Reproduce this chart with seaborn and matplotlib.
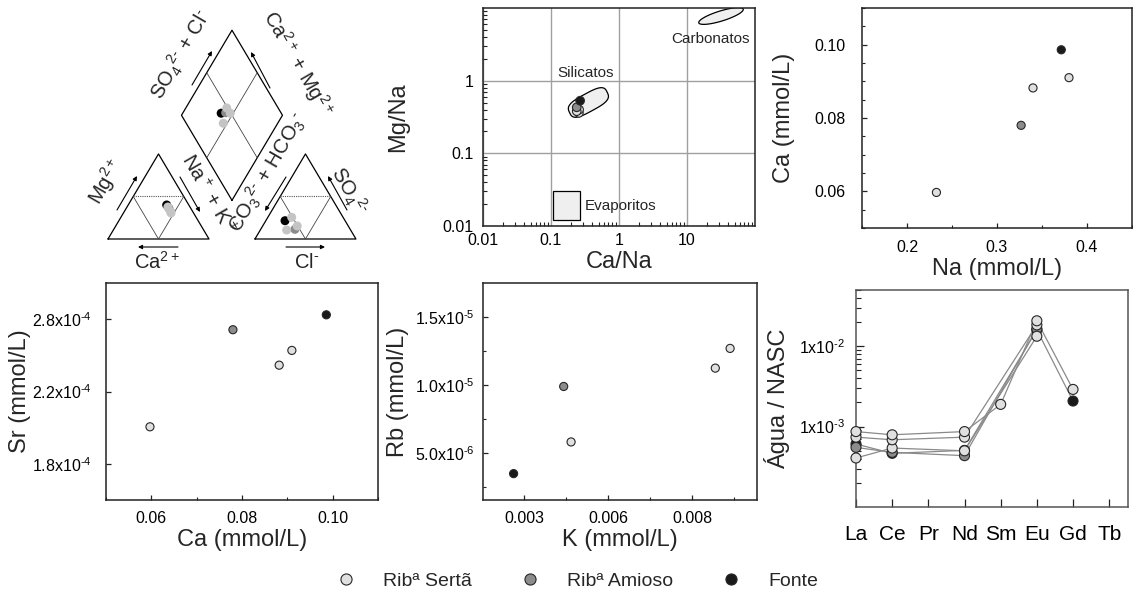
import numpy as np
import pandas as pd
import matplotlib
matplotlib.use("Agg")
import matplotlib.pyplot as plt
import seaborn as sns
from matplotlib.lines import Line2D
from matplotlib.patches import Rectangle
from matplotlib.ticker import AutoMinorLocator, LogLocator, NullFormatter, NullLocator

# ---- data ----
# sample order: three Ribª Sertã, one Ribª Amioso, one Fonte
groups = ["Ribª Sertã", "Ribª Sertã", "Ribª Sertã", "Ribª Amioso", "Fonte"]
legend_order = ["Ribª Sertã", "Ribª Amioso", "Fonte"]
palette = {"Ribª Sertã": "#e0e0e0", "Ribª Amioso": "#8c8c8c", "Fonte": "#1a1a1a"}
piper_palette = {"Ribª Sertã": "#c4c4c4", "Ribª Amioso": "#8a8a8a", "Fonte": "#000000"}

# Piper, fractions of total meq
cat_ca = [0.219, 0.218, 0.223, 0.216, 0.219]
cat_mg = [0.376, 0.321, 0.306, 0.361, 0.400]
cat_nak = [0.405, 0.461, 0.471, 0.423, 0.381]
an_hco3 = [0.509, 0.633, 0.505, 0.547, 0.595]
an_so4 = [0.255, 0.106, 0.153, 0.114, 0.215]
an_cl = [0.236, 0.261, 0.342, 0.339, 0.190]

# Gaillardet-type ratios
ca_na = [0.257, 0.259, 0.239, 0.239, 0.268]
mg_na = [0.36, 0.40, 0.38, 0.43, 0.53]

# concentrations (mmol/L)
na_mmol = [0.2327, 0.340, 0.380, 0.3268, 0.3714]
ca_mmol = [0.0597, 0.0882, 0.0910, 0.0780, 0.0986]
sr_mmol = [2.006e-4, 2.432e-4, 2.534e-4, 2.677e-4, 2.780e-4]
k_mmol = [0.00440, 0.00869, 0.00913, 0.00418, 0.00269]
rb_mmol = [5.79e-6, 1.122e-5, 1.267e-5, 9.87e-6, 3.46e-6]

# REE normalised to NASC
nan = np.nan
ree_elements = ["La", "Ce", "Pr", "Nd", "Sm", "Eu", "Gd", "Tb"]
ree_sertã_1 = [8.67e-4, 7.91e-4, nan, 8.67e-4, 1.89e-3, 2.07e-2, 2.90e-3, nan]
ree_sertã_2 = [7.39e-4, 6.86e-4, nan, 7.39e-4, nan, 1.84e-2, nan, nan]
ree_sertã_3 = [4.07e-4, 5.41e-4, nan, 5.00e-4, nan, 1.33e-2, nan, nan]
ree_amioso = [5.51e-4, 4.78e-4, nan, 4.35e-4, nan, 1.64e-2, nan, nan]
ree_fonte = [6.07e-4, 4.65e-4, nan, 5.06e-4, nan, 1.60e-2, 2.08e-3, nan]

# reference fields of the Mg/Na vs Ca/Na plot (log10 centre, half axes, tilt in deg)
carb_field = (1.50, 0.89, 0.34, 0.07, 16)
sil_field = (-0.45, -0.30, 0.31, 0.125, 27)
evap_box = (0.107, 0.265, 0.012, 0.030)

# ---- style ----
sns.set_style("white")
plt.rcParams["font.family"] = ["Liberation Sans", "DejaVu Sans"]
plt.rcParams["mathtext.fontset"] = "custom"
plt.rcParams["mathtext.rm"] = "Liberation Sans"
plt.rcParams["mathtext.it"] = "Liberation Sans:italic"
plt.rcParams["mathtext.bf"] = "Liberation Sans:bold"
plt.rcParams["axes.unicode_minus"] = False

W, H = 1133, 598
fig = plt.figure(figsize=(W / 100, H / 100), dpi=100)


def add_px_axes(left, top, right, bottom):
    return fig.add_axes([left / W, 1 - bottom / H, (right - left) / W, (bottom - top) / H])


def style_axes(ax, major=3.5, minor=2.2):
    for sp in ax.spines.values():
        sp.set_visible(True)
        sp.set_linewidth(1.1)
        sp.set_color("#222222")
    ax.tick_params(which="both", direction="in", bottom=True, left=True, top=False, right=False,
                   color="#222222", labelcolor="black", labelsize=11.5)
    ax.tick_params(which="major", length=major, width=0.9)
    ax.tick_params(which="minor", length=minor, width=0.8)


def sci(mant, exp):
    return mant + r"x10$^{\text{-}" + exp + "}$"


def scatter_panel(ax, x, y, s=34):
    df = pd.DataFrame({"x": x, "y": y, "grupo": groups})
    sns.scatterplot(data=df, x="x", y="y", hue="grupo", palette=palette, s=s,
                    edgecolor="#262626", linewidth=0.8, legend=False, ax=ax, zorder=3)


# ---- Piper diagram ----
g = 0.455
hh = np.sqrt(3) / 2
ax = add_px_axes(50, 0, 385, 275)
ax.set_xlim((50 - 108) / 101, (385 - 108) / 101)
ax.set_ylim((239 - 275) / 98.2, 239 / 98.2)
ax.axis("off")


def P(px, py):
    return (px - 108) / 101, (239 - py) / 98.2


k = dict(color="black", lw=0.9)
for x0 in (0, 1 + g):
    ax.plot([x0, x0 + 1, x0 + 0.5, x0], [0, 0, hh, 0], **k)
    ax.plot([x0 + 0.25, x0 + 0.75], [hh / 2, hh / 2], color="#555555", lw=0.8, ls=(0, (1, 1)))
    ax.plot([x0 + 0.25, x0 + 0.5, x0 + 0.75], [hh / 2, 0, hh / 2], color="#444444", lw=0.6)
bx, by = 1 + g / 2, g * hh
dia = np.array([[bx, by], [bx - 0.5, by + hh], [bx, by + 2 * hh], [bx + 0.5, by + hh], [bx, by]])
ax.plot(dia[:, 0], dia[:, 1], **k)
mid = lambda a, b: (dia[a] + dia[b]) / 2
for a, b in ((mid(1, 2), mid(3, 0)), (mid(2, 3), mid(0, 1))):
    ax.plot([a[0], b[0]], [a[1], b[1]], color="#444444", lw=0.6)

cx = np.array(cat_nak) + 0.5 * np.array(cat_mg)
cy = hh * np.array(cat_mg)
axn = 1 + g + np.array(an_cl) + 0.5 * np.array(an_so4)
ayn = hh * np.array(an_so4)
t = ((axn - cx) + (ayn - cy) / (2 * hh))
dx = cx + 0.5 * t
dy = cy + hh * t
pdf = pd.DataFrame({"x": np.concatenate([cx, axn, dx]), "y": np.concatenate([cy, ayn, dy]),
                    "grupo": groups * 3})
pdf = pdf.iloc[::-1]
sns.scatterplot(data=pdf, x="x", y="y", hue="grupo", palette=piper_palette, s=42,
                edgecolor="none", legend=False, ax=ax, zorder=3)

m2 = r"$^{2\text{-}}$"
m1 = r"$^{\text{-}}$"
labels = [
    (r"Mg$^{2+}$", (106, 182), 60),
    (r"Ca$^{2+}$", (157, 262), 0),
    (r"Na$^+$ + K$^+$", (208, 194), -60),
    (r"CO$_3$" + m2 + r" + HCO$_3$" + m1, (268, 172), 60),
    (r"SO$_4$" + m2, (349, 191), -60),
    (r"Cl" + m1, (307, 262), 0),
    (r"SO$_4$" + m2 + r" + Cl" + m1, (181, 55), 60),
    (r"Ca$^{2+}$ + Mg$^{2+}$", (298, 64), -60),
]
for txt, (px, py), rot in labels:
    ax.text(*P(px, py), txt, rotation=rot, rotation_mode="anchor", ha="center", va="center",
            fontsize=14.5)

arrows = [((117, 210), (137, 176)), ((180, 177), (200, 212)), ((178, 247), (138, 247)),
          ((286, 177), (265, 211)), ((347, 210), (328, 176)), ((286, 247), (325, 247)),
          ((192, 85), (212, 51)), ((270, 88), (251, 52))]
for s0, s1 in arrows:
    ax.annotate("", xy=P(*s1), xytext=P(*s0),
                arrowprops=dict(arrowstyle="-|>", lw=0.8, color="black", mutation_scale=6,
                                shrinkA=0, shrinkB=0))

# ---- Mg/Na vs Ca/Na ----
ax = add_px_axes(483, 8, 755, 226)
ax.set_xscale("log")
ax.set_yscale("log")


def field(ax, cxl, cyl, a, b, ang, n=2.0):
    th = np.linspace(0, 2 * np.pi, 200)
    c, s = np.cos(th), np.sin(th)
    u = a * np.sign(c) * np.abs(c) ** (2 / n)
    v = b * np.sign(s) * np.abs(s) ** (2 / n)
    r = np.deg2rad(ang)
    xs = cxl + u * np.cos(r) - v * np.sin(r)
    ys = cyl + u * np.sin(r) + v * np.cos(r)
    ax.fill(10 ** xs, 10 ** ys, facecolor="#efefef", edgecolor="black", lw=0.9, zorder=2)


field(ax, *carb_field)
field(ax, *sil_field, n=3.2)
ex0, ex1, ey0, ey1 = evap_box
ax.add_patch(Rectangle((ex0, ey0), ex1 - ex0, ey1 - ey0, facecolor="#efefef",
                       edgecolor="black", lw=0.9, zorder=2))
scatter_panel(ax, ca_na, mg_na, s=38)
ax.set_xlim(0.01, 100)
ax.set_ylim(0.01, 10)
style_axes(ax)
ax.set_xticks([0.01, 0.1, 1, 10], ["0.01", "0.1", "1", "10"])
ax.set_yticks([0.01, 0.1, 1], ["0.01", "0.1", "1"])
ax.xaxis.set_minor_locator(LogLocator(subs=np.arange(2, 10)))
ax.yaxis.set_minor_locator(LogLocator(subs=np.arange(2, 10)))
ax.xaxis.set_minor_formatter(NullFormatter())
ax.yaxis.set_minor_formatter(NullFormatter())
ax.tick_params(which="major", length=0, pad=5)
ax.tick_params(axis="y", which="major", pad=7)
ax.tick_params(which="minor", length=3)
ax.grid(True, which="major", color="#a0a0a0", lw=1.0, zorder=0)
ax.set_axisbelow(True)
ax.text(21.9, 3.7, "Carbonatos", ha="center", va="center", fontsize=11)
ax.text(0.32, 1.29, "Silicatos", ha="center", va="center", fontsize=11)
ax.text(0.31, 0.0187, "Evaporitos", ha="left", va="center", fontsize=11)
ax.set_xlabel("Ca/Na", fontsize=17, labelpad=2)
ax.set_ylabel("Mg/Na", fontsize=17, labelpad=24)

# ---- Ca vs Na ----
ax = add_px_axes(862, 8, 1132, 228)
scatter_panel(ax, na_mmol, ca_mmol)
ax.set_xlim(0.15, 0.45)
ax.set_ylim(0.05, 0.11)
style_axes(ax)
ax.set_xticks([0.2, 0.3, 0.4], ["0.2", "0.3", "0.4"])
ax.set_yticks([0.06, 0.08, 0.10], ["0.06", "0.08", "0.10"])
ax.xaxis.set_minor_locator(AutoMinorLocator(2))
ax.yaxis.set_minor_locator(AutoMinorLocator(4))
ax.tick_params(axis="x", pad=9)
ax.tick_params(axis="y", pad=12)
ax.set_xlabel("Na (mmol/L)", fontsize=17, labelpad=2)
ax.set_ylabel("Ca (mmol/L)", fontsize=17, labelpad=14)

# ---- Sr vs Ca ----
ax = add_px_axes(106, 283, 378, 500)
scatter_panel(ax, ca_mmol, sr_mmol)
ax.set_xlim(0.05, 0.11)
ax.set_ylim(1.5e-4, 3.0e-4)
style_axes(ax)
ax.set_xticks([0.06, 0.08, 0.10], ["0.06", "0.08", "0.10"])
ax.set_yticks([1.75e-4, 2.25e-4, 2.75e-4], [sci("1.8", "4"), sci("2.2", "4"), sci("2.8", "4")])
ax.xaxis.set_minor_locator(AutoMinorLocator(2))
ax.yaxis.set_minor_locator(NullLocator())
ax.tick_params(axis="x", pad=8)
ax.tick_params(axis="y", pad=10)
ax.set_xlabel("Ca (mmol/L)", fontsize=17, labelpad=2)
ax.set_ylabel("Sr (mmol/L)", fontsize=17, labelpad=1)

# ---- Rb vs K ----
ax = add_px_axes(483, 283, 757, 500)
scatter_panel(ax, k_mmol, rb_mmol)
ax.set_xlim(0.00178, 0.00993)
ax.set_ylim(1.52e-6, 1.748e-5)
style_axes(ax)
ax.set_xticks([0.003, 0.0055, 0.008], ["0.003", "0.006", "0.008"])
ax.set_yticks([5e-6, 1e-5, 1.5e-5], [sci("5.0", "6"), sci("1.0", "5"), sci("1.5", "5")])
ax.xaxis.set_minor_locator(AutoMinorLocator(2))
ax.yaxis.set_minor_locator(AutoMinorLocator(2))
ax.tick_params(axis="x", pad=8)
ax.tick_params(axis="y", pad=6)
ax.set_xlabel("K (mmol/L)", fontsize=17, labelpad=2)
ax.set_ylabel("Rb (mmol/L)", fontsize=17, labelpad=4)

# ---- REE pattern ----
ax = add_px_axes(856, 290, 1128, 507)
ree_samples = {"Fonte": ree_fonte, "Amioso": ree_amioso, "Sertã 3": ree_sertã_3,
               "Sertã 2": ree_sertã_2, "Sertã 1": ree_sertã_1}
ree_groups = {"Fonte": "Fonte", "Amioso": "Ribª Amioso", "Sertã 3": "Ribª Sertã",
              "Sertã 2": "Ribª Sertã", "Sertã 1": "Ribª Sertã"}
rows = []
for name, vals in ree_samples.items():
    for el, v in zip(ree_elements, vals):
        rows.append({"amostra": name, "grupo": ree_groups[name],
                     "pos": ree_elements.index(el), "valor": v})
ree = pd.DataFrame(rows).dropna()
sns.lineplot(data=ree, x="pos", y="valor", units="amostra", estimator=None, sort=False,
             color="#8a8a8a", lw=0.9, ax=ax, zorder=2)
sns.scatterplot(data=ree, x="pos", y="valor", hue="grupo", palette=palette, s=52,
                edgecolor="#262626", linewidth=0.8, legend=False, ax=ax, zorder=3, clip_on=False)
ax.set_yscale("log")
ax.set_xlim(0, 7.52)
ax.set_ylim(1e-4, 0.05)
style_axes(ax, major=6, minor=3.5)
for sp in ax.spines.values():
    sp.set_color("#555555")
ax.set_xticks(range(len(ree_elements)), ree_elements)
ax.set_yticks([1e-3, 1e-2], [sci("1", "3"), sci("1", "2")])
ax.yaxis.set_minor_locator(LogLocator(subs=np.arange(2, 10)))
ax.yaxis.set_minor_formatter(NullFormatter())
ax.tick_params(axis="x", labelsize=15, pad=13)
ax.tick_params(axis="y", pad=8)
ax.set_xlabel("")
ax.set_ylabel("Água / NASC", fontsize=17, labelpad=6)

# ---- legend ----
handles = [Line2D([], [], marker="o", ls="", markersize=8, markerfacecolor=palette[gr],
                  markeredgecolor="#262626", markeredgewidth=0.8, label=gr)
           for gr in legend_order]
fig.legend(handles=handles, loc="center", bbox_to_anchor=(577 / W, 1 - 581 / H), ncol=3,
           frameon=False, fontsize=14, handlelength=1.0, handletextpad=1.4, columnspacing=2.5)

fig.savefig("out.png", dpi=100)
